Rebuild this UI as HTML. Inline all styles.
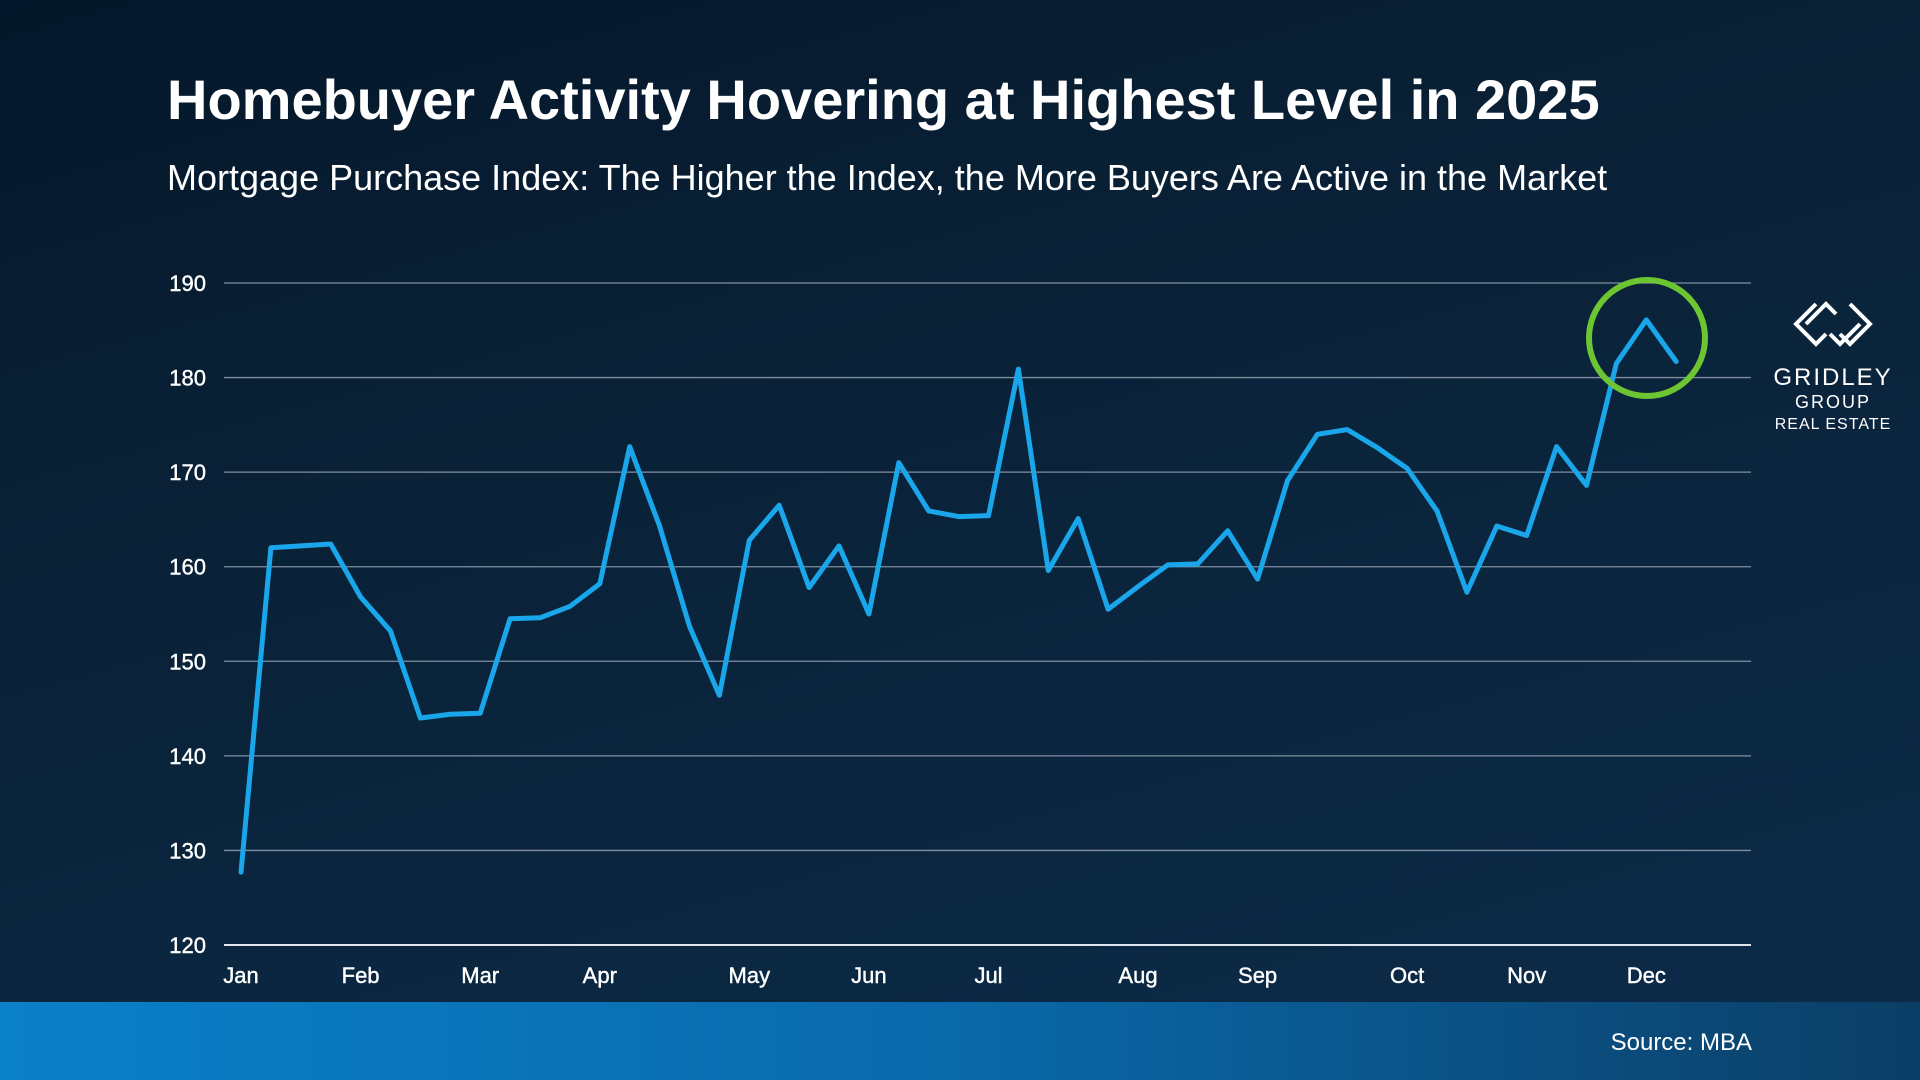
<!DOCTYPE html>
<html><head><meta charset="utf-8"><style>
html,body{margin:0;padding:0;width:1920px;height:1080px;overflow:hidden;background:#071a2b;font-family:"Liberation Sans",Arial,sans-serif}
#bg{position:absolute;left:0;top:0;width:1920px;height:1080px;background:linear-gradient(165deg,#05172a 0%,#0a2238 40%,#0c2c4a 100%)}
#title{position:absolute;left:167px;top:67px;color:#fff;font-size:56px;font-weight:bold;margin:0}
#subtitle{position:absolute;left:167px;top:157px;color:#fff;font-size:36px;margin:0}
#footer{position:absolute;left:0;top:1002px;width:1920px;height:78px;background:linear-gradient(90deg,#0a80c9 0%,#0a69aa 50%,#0b3e66 100%)}
#source{position:absolute;right:168px;top:1029px;color:#fff;font-size:24px}
svg{position:absolute;left:0;top:0}
</style></head><body>
<div id="bg"></div>
<h1 id="title">Homebuyer Activity Hovering at Highest Level in 2025</h1>
<p id="subtitle">Mortgage Purchase Index: The Higher the Index, the More Buyers Are Active in the Market</p>
<div id="footer"></div>
<div id="source">Source: MBA</div>
<svg id="chart" width="1920" height="1080">
 <g id="grid"></g><g id="yt"></g><g id="xt"></g><g id="series"></g>
 <circle cx="1647" cy="338" r="58" fill="none" stroke="#6cc531" stroke-width="6"/>
 <g>
  <path d="M1816 304 L1796 324 L1816 344 L1826 334 M1850 304 L1870 324 L1850 344 L1840 334 M1806 324 L1826 304 L1836 314 M1860 324 L1840 344 L1830 334" fill="none" stroke="#fff" stroke-width="4"/>
  <text x="1833" y="385" fill="#fff" font-size="24" text-anchor="middle" letter-spacing="2">GRIDLEY</text>
  <text x="1833" y="408" fill="#fff" font-size="18" text-anchor="middle" letter-spacing="2">GROUP</text>
  <text x="1833" y="429" fill="#fff" font-size="16" text-anchor="middle" letter-spacing="1">REAL ESTATE</text>
 </g>
</svg>
<script>
const yTicks=[120,130,140,150,160,170,180,190];
const months=["Jan","Feb","Mar","Apr","May","Jun","Jul","Aug","Sep","Oct","Nov","Dec"];
const monthWeek=[0,4,8,12,17,21,25,30,34,39,43,47];
const values=[127.7,162,162.2,162.4,156.8,153.2,144,144.4,144.5,154.5,154.6,155.8,158.2,172.7,164.3,153.7,146.4,162.8,166.5,157.8,162.2,155,171,165.9,165.3,165.4,180.9,159.6,165.1,155.5,157.9,160.2,160.3,163.8,158.7,169.1,174,174.5,172.6,170.4,165.9,157.3,164.3,163.3,172.7,168.6,181.5,186.1,181.7];
const NS="http://www.w3.org/2000/svg";
const X0=224,X1=1751,Y0=945,Y1=283,ymin=120,ymax=190;
const x=i=>241+i*29.9;
const y=v=>Y0-(v-ymin)/(ymax-ymin)*(Y0-Y1);
function mk(t,a,p){const e=document.createElementNS(NS,t);for(const k in a)e.setAttribute(k,a[k]);p.appendChild(e);return e;}
const grid=document.getElementById('grid'),yt=document.getElementById('yt'),xt=document.getElementById('xt'),ser=document.getElementById('series');
yTicks.forEach(v=>{
 const l=mk('line',{x1:X0,x2:X1,y1:y(v),y2:y(v),stroke:v===120?'#e0e6ec':'#7f8fa0','stroke-width':v===120?2:1.3},grid);
 
 
 const t=mk('text',{x:206,y:y(v)+8,fill:'#fff','font-size':22,'text-anchor':'end','stroke':'#fff','stroke-width':0.4},yt);
 t.textContent=v;
 
 
});
months.forEach((m,i)=>{
 const t=mk('text',{x:x(monthWeek[i]),y:983,fill:'#fff','font-size':22,'text-anchor':'middle','stroke':'#fff','stroke-width':0.4},xt);
 t.textContent=m;
 
 
});
const p=mk('polyline',{points:values.map((v,i)=>x(i)+','+y(v)).join(' '),fill:'none',stroke:'#1aa6ea','stroke-width':5,'stroke-linejoin':'round','stroke-linecap':'round'},ser);


</script>
</body></html>
